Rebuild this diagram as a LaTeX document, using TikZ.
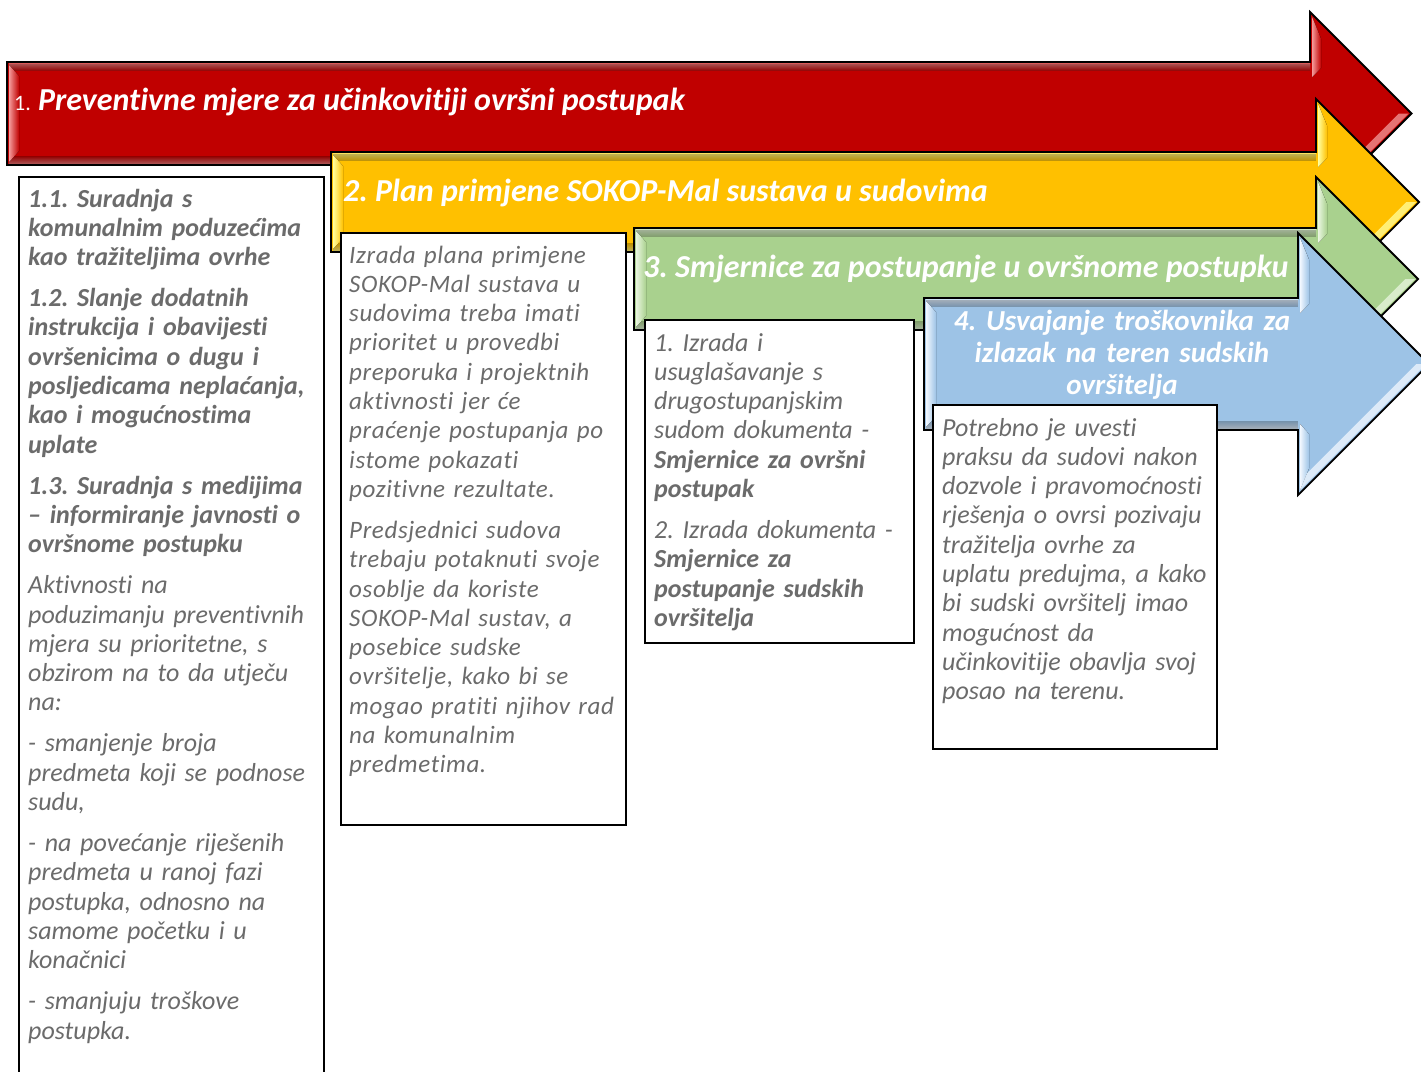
\documentclass[tikz,border=0pt]{standalone}
\usepackage{fontspec}
\setmainfont{Carlito}[Ligatures=NoCommon]
\newfontfamily\spacedfont{Carlito}[Ligatures=NoCommon, LetterSpace=2.5]
\frenchspacing
\definecolor{redA}{HTML}{C00000}
\definecolor{redL}{HTML}{F49A9A}
\definecolor{yelA}{HTML}{FFC000}
\definecolor{yelL}{HTML}{FFFF9E}
\definecolor{grnA}{HTML}{A9D18E}
\definecolor{grnL}{HTML}{EAF6E0}
\definecolor{bluA}{HTML}{9DC3E6}
\definecolor{bluL}{HTML}{F2F8FF}
\definecolor{txtgray}{HTML}{6B6B6B}

% Bevelled block arrow: #1 left x, #2 body top, #3 body bottom,
% #4 x of the head's back edge, #5 head top, #6 fill colour, #7 highlight colour
\newcommand\bevelarrow[7]{%
  \pgfmathsetmacro\ay{(#2+#3)/2}%
  \pgfmathsetmacro\ah{\ay-#5}%
  \pgfmathsetmacro\ax{#4+\ah}%
  \pgfmathsetmacro\ab{2*\ay-#5}%
  \fill[#6] (#1,#2) -- (#4,#2) -- (#4,#5) -- (\ax,\ay) -- (#4,\ab) -- (#4,#3) -- (#1,#3) -- cycle;
  \fill[top color=#7, bottom color=#6, opacity=.55] (#1+2,#2+1.5) rectangle (#4,#2+9);
  \fill[bottom color=#7, top color=#6, opacity=.55] (#1+2,#3-9) rectangle (#4,#3-1.5);
  \fill[left color=#7, right color=#6] (#1+2,#2+3) -- (#1+12,#2+14) -- (#1+12,#3-14) -- (#1+2,#3-3) -- cycle;
  \fill[left color=#7, right color=#6] (#4+2,#5+4.8) -- (#4+11,#5+26.6) -- (#4+11,#2+6) -- (#4+2,#2+15) -- cycle;
  \fill[left color=#7, right color=#6] (#4+2,#3-6) -- (#4+11,#3+4) -- (#4+11,\ab-26.6) -- (#4+2,\ab-4.8) -- cycle;
  \fill[#7, opacity=.75] (\ax-2.8,\ay) -- (#4+2,\ab-4.8) -- (#4+9,\ab-21.7) -- (\ax-12.7,\ay) -- cycle;
  \draw[outline] (#1,#2) -- (#4,#2) -- (#4,#5) -- (\ax,\ay) -- (#4,\ab) -- (#4,#3) -- (#1,#3) -- cycle;
}
\newcommand\pgap{\\[11.7pt]}

\begin{document}
\begin{tikzpicture}[x=1pt,y=-1pt,
  outline/.style={draw=black, line width=1.8pt, line join=miter},
  panel/.style={draw=black, line width=1.6pt, fill=white, anchor=north west, inner sep=0pt},
  boxtext/.style={anchor=base west, inner sep=0pt, text width=330pt, align=left, text=txtgray,
    font=\fontsize{26}{29.3}\selectfont\itshape},
  headtext/.style={anchor=base west, inner sep=0pt, text=white,
    font=\fontsize{32}{36}\selectfont\bfseries\itshape},
]
\useasboundingbox (0,0) rectangle (1421,1071);
\fill[white] (0,0) rectangle (1421,1071);

% ---- stage 1 ----
\bevelarrow{7}{62}{165}{1310}{12}{redA}{redL}
\node[headtext] (h1) at (14,110) {{\fontsize{22}{24}\selectfont\mdseries\upshape 1.} Preventivne mjere za učinkovitiji ovršni postupak};
\node[panel, minimum width=305pt, minimum height=910pt] (p1) at (18,176) {};
\node[boxtext] (t1) at (28,207) {%
\textbf{1.1. Suradnja s}\\
\textbf{komunalnim poduzećima}\\
\textbf{kao tražiteljima ovrhe}\pgap
\textbf{1.2. Slanje dodatnih}\\
\textbf{instrukcija i obavijesti}\\
\textbf{ovršenicima o dugu i}\\
\textbf{posljedicama neplaćanja,}\\
\textbf{kao i mogućnostima}\\
\textbf{uplate}\pgap
\textbf{1.3. Suradnja s medijima}\\
\textbf{– informiranje javnosti o}\\
\textbf{ovršnome postupku}\pgap
Aktivnosti na\\
poduzimanju preventivnih\\
mjera su prioritetne, s\\
obzirom na to da utječu\\
na:\pgap
- smanjenje broja\\
predmeta koji se podnose\\
sudu,\pgap
- na povećanje riješenih\\
predmeta u ranoj fazi\\
postupka, odnosno na\\
samome početku i u\\
konačnici\pgap
- smanjuju troškove\\
postupka.};

% ---- stage 2 ----
\bevelarrow{331}{152}{252}{1316}{99}{yelA}{yelL}
\node[headtext] (h2) at (343,201) {2. Plan primjene SOKOP-Mal sustava u sudovima};
\node[panel, minimum width=285pt, minimum height=592pt] (p2) at (340,232) {};
\node[boxtext, font=\fontsize{25}{29.3}\selectfont\spacedfont\itshape] (t2) at (349,263) {%
Izrada plana primjene\\
SOKOP-Mal sustava u\\
sudovima treba imati\\
prioritet u provedbi\\
preporuka i projektnih\\
aktivnosti jer će\\
praćenje postupanja po\\
istome pokazati\\
pozitivne rezultate.\pgap
Predsjednici sudova\\
trebaju potaknuti svoje\\
osoblje da koriste\\
SOKOP-Mal sustav, a\\
posebice sudske\\
ovršitelje, kako bi se\\
mogao pratiti njihov rad\\
na komunalnim\\
predmetima.};

% ---- stage 3 ----
\bevelarrow{634}{228}{330}{1316}{177}{grnA}{grnL}
\node[headtext] (h3) at (643,277) {3. Smjernice za postupanje u ovršnome postupku};
\node[panel, minimum width=269pt, minimum height=323pt] (p3) at (644,319) {};
\node[boxtext] (t3) at (654,351) {%
1. Izrada i\\
usuglašavanje s\\
drugostupanjskim\\
sudom dokumenta -\\
\textbf{Smjernice za ovršni}\\
\textbf{postupak}\pgap
2. Izrada dokumenta -\\
\textbf{Smjernice za}\\
\textbf{postupanje sudskih}\\
\textbf{ovršitelja}};

% ---- stage 4 ----
\bevelarrow{924}{298}{430}{1298}{233}{bluA}{bluL}
\node[headtext, anchor=base, text width=380pt, align=center,
  font=\fontsize{29}{32}\selectfont\bfseries\itshape] (h4) at (1122,330)
  {4. Usvajanje troškovnika za\\ izlazak na teren sudskih\\ ovršitelja};
\node[panel, minimum width=284pt, minimum height=344pt] (p4) at (932,404) {};
\node[boxtext] (t4) at (942,436) {%
Potrebno je uvesti\\
praksu da sudovi nakon\\
dozvole i pravomoćnosti\\
rješenja o ovrsi pozivaju\\
tražitelja ovrhe za\\
uplatu predujma, a kako\\
bi sudski ovršitelj imao\\
mogućnost da\\
učinkovitije obavlja svoj\\
posao na terenu.};
\end{tikzpicture}
\end{document}
